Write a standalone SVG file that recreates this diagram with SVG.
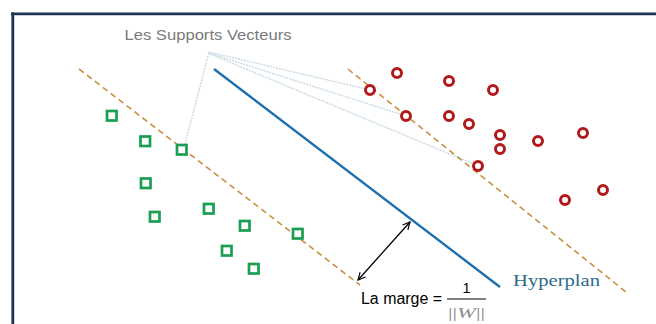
<svg xmlns="http://www.w3.org/2000/svg" width="656" height="324" viewBox="0 0 656 324">
  <style>
    .sq { fill: #ffffff; stroke: #1a9e52; stroke-width: 2.7; }
    .ci { fill: #ffffff; stroke: #b01a1a; stroke-width: 3; }
    .margin { fill: none; stroke: #c9913f; stroke-width: 1.6; stroke-dasharray: 6 4; }
    .sv { fill: none; stroke: #ccdbe6; stroke-width: 1.5; stroke-dasharray: 2 1; }
  </style>
  <defs>
    <marker id="arr" viewBox="0 0 10 10" refX="9" refY="5" markerWidth="9" markerHeight="9" orient="auto-start-reverse" markerUnits="userSpaceOnUse">
      <path d="M1,1 L9,5 L1,9" fill="none" stroke="#000" stroke-width="1.3"/>
    </marker>
  </defs>
  <rect x="0" y="0" width="656" height="324" fill="#ffffff"/>
  <g id="frame">
    <line x1="11" y1="13.8" x2="656" y2="13.8" stroke="#1e3453" stroke-width="2.8"/>
    <line x1="12.8" y1="12.5" x2="12.8" y2="324" stroke="#1e3453" stroke-width="2.8"/>
  </g>
  <g id="connectors">
    <polyline class="sv" points="184,148 209,52 370,90"/>
    <line class="sv" x1="209" y1="53" x2="406" y2="116"/>
    <line class="sv" x1="210" y1="54" x2="476" y2="165"/>
    <line class="margin" x1="79" y1="69" x2="360" y2="285"/>
    <line class="margin" x1="348" y1="69" x2="626" y2="292"/>
    <line x1="214" y1="69" x2="500" y2="287" stroke="#1d70b0" stroke-width="2.4"/>
    <line x1="358" y1="280" x2="410" y2="222" stroke="#000" stroke-width="1.3" marker-start="url(#arr)" marker-end="url(#arr)"/>
  </g>
  <g id="label-supports">
    <text x="208" y="40" text-anchor="middle" font-family="Liberation Sans, Arial, sans-serif" font-size="14.5" fill="#7a7a7a" textLength="167" lengthAdjust="spacingAndGlyphs">Les Supports Vecteurs</text>
  </g>
  <g id="green-class">
    <rect class="sq" x="107" y="111" width="9.5" height="9.5"/>
    <rect class="sq" x="140.5" y="136.5" width="9.5" height="9.5"/>
    <rect class="sq" x="177" y="145" width="9.5" height="9.5"/>
    <rect class="sq" x="141" y="178.5" width="9.5" height="9.5"/>
    <rect class="sq" x="150" y="212" width="9.5" height="9.5"/>
    <rect class="sq" x="204" y="204" width="9.5" height="9.5"/>
    <rect class="sq" x="240" y="221" width="9.5" height="9.5"/>
    <rect class="sq" x="222" y="246" width="9.5" height="9.5"/>
    <rect class="sq" x="249" y="264" width="9.5" height="9.5"/>
    <rect class="sq" x="293" y="229" width="9.5" height="9.5"/>
  </g>
  <g id="red-class">
    <circle class="ci" cx="397" cy="73" r="4.5"/>
    <circle class="ci" cx="370" cy="90" r="4.5"/>
    <circle class="ci" cx="449" cy="81" r="4.5"/>
    <circle class="ci" cx="493" cy="90" r="4.5"/>
    <circle class="ci" cx="406" cy="116" r="4.5"/>
    <circle class="ci" cx="449" cy="116" r="4.5"/>
    <circle class="ci" cx="469" cy="124" r="4.5"/>
    <circle class="ci" cx="500" cy="135" r="4.5"/>
    <circle class="ci" cx="500" cy="149" r="4.5"/>
    <circle class="ci" cx="538" cy="141" r="4.5"/>
    <circle class="ci" cx="583" cy="133" r="4.5"/>
    <circle class="ci" cx="478" cy="166" r="4.5"/>
    <circle class="ci" cx="565" cy="200" r="4.5"/>
    <circle class="ci" cx="603" cy="190" r="4.5"/>
  </g>
  <g id="label-hyperplan">
    <text x="513" y="286" font-family="Liberation Serif, Times New Roman, serif" font-size="17" fill="#2d6b8c" textLength="87" lengthAdjust="spacingAndGlyphs">Hyperplan</text>
  </g>
  <g id="label-marge">
    <text x="361" y="304" font-family="Liberation Sans, Arial, sans-serif" font-size="16" fill="#000" textLength="81" lengthAdjust="spacingAndGlyphs">La marge =</text>
    <text x="466.5" y="293" text-anchor="middle" font-family="Liberation Sans, Arial, sans-serif" font-size="14.5" fill="#000">1</text>
    <line x1="447" y1="299" x2="486" y2="299" stroke="#000" stroke-width="1.2"/>
    <text x="466.5" y="318" text-anchor="middle" font-family="Liberation Serif, Times New Roman, serif" font-size="15" fill="#8a8a8a" textLength="37" lengthAdjust="spacingAndGlyphs">||<tspan font-style="italic">W</tspan>||</text>
  </g>
</svg>
